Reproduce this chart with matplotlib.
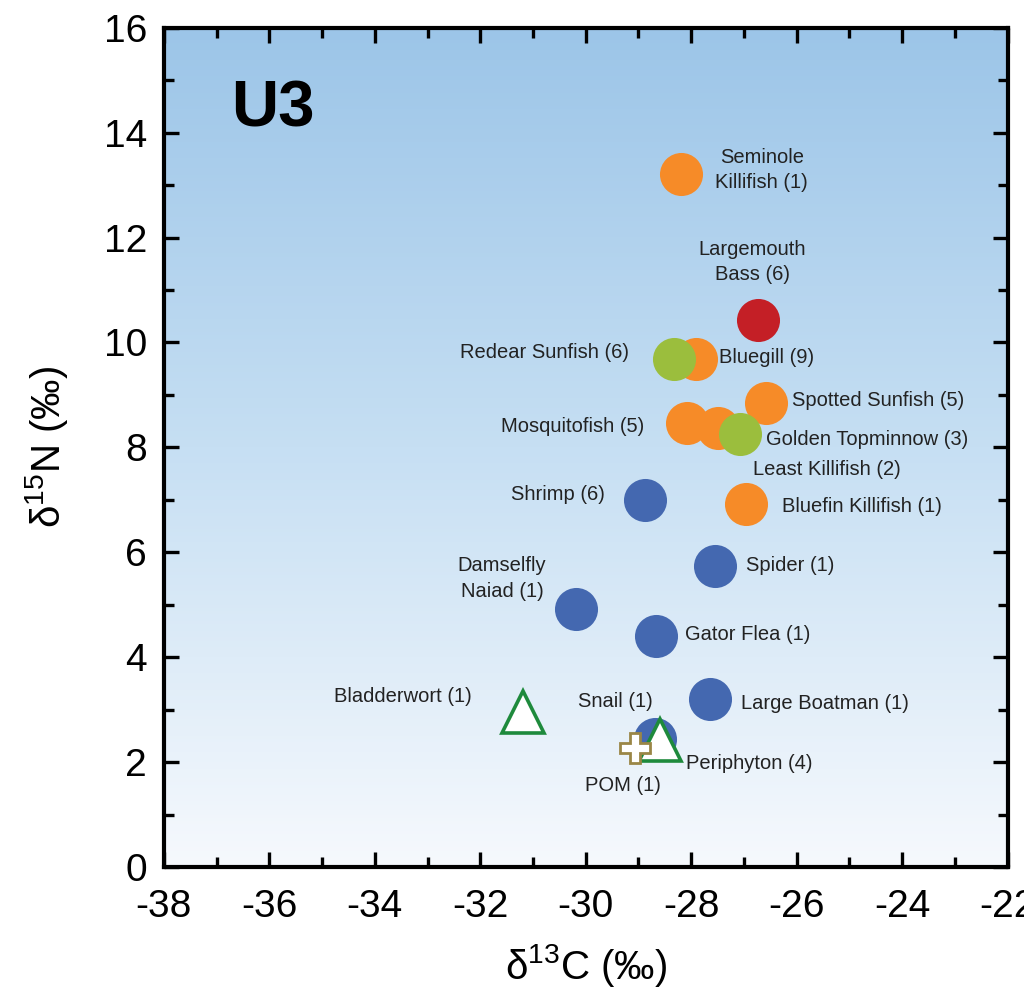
import matplotlib
matplotlib.use('Agg')
import matplotlib.pyplot as plt
import numpy as np
from matplotlib.colors import LinearSegmentedColormap
from matplotlib.ticker import MultipleLocator

plt.rcParams['font.family'] = ['Liberation Sans', 'DejaVu Sans']
plt.rcParams['mathtext.fontset'] = 'custom'
plt.rcParams['mathtext.rm'] = 'Liberation Sans'
plt.rcParams['mathtext.default'] = 'regular'
plt.rcParams['axes.unicode_minus'] = False

# taxa, sample counts and isotope values (d13C, d15N)
names = ['Seminole\nKillifish', 'Largemouth\nBass', 'Redear Sunfish', 'Bluegill',
         'Spotted Sunfish', 'Mosquitofish', 'Least Killifish', 'Golden Topminnow',
         'Shrimp', 'Bluefin Killifish', 'Spider', 'Damselfly\nNaiad', 'Gator Flea',
         'Large Boatman', 'Snail', 'Periphyton', 'Bladderwort', 'POM']
counts = [1, 6, 6, 9, 5, 5, 2, 3, 6, 1, 1, 1, 1, 1, 1, 4, 1, 1]
d13c = [-28.19, -26.73, -28.33, -27.90, -26.59, -28.08, -27.49, -27.08,
        -28.87, -26.97, -27.54, -30.19, -28.67, -27.64, -28.68, -28.60, -31.18, -29.06]
d15n = [13.21, 10.42, 9.68, 9.68, 8.84, 8.46, 8.37, 8.26,
        7.00, 6.92, 5.73, 4.92, 4.41, 3.20, 2.44, 2.42, 2.96, 2.26]
group = ['fish', 'top', 'plant_eater', 'fish', 'fish', 'fish', 'fish', 'plant_eater',
         'invert', 'fish', 'invert', 'invert', 'invert', 'invert', 'invert',
         'producer', 'producer', 'pom']

# drawing order (later on top)
order = ['invert', 'fish', 'top', 'plant_eater', 'producer', 'pom']
style = {
    'invert': dict(marker='o', color='#4468B0', ms=31, mec='none'),
    'fish': dict(marker='o', color='#F68B28', ms=31, mec='none'),
    'top': dict(marker='o', color='#C41F26', ms=31, mec='none'),
    'plant_eater': dict(marker='o', color='#9BBE3D', ms=31, mec='none'),
    'producer': dict(marker='^', color='white', ms=30, mec='#1E8A3C', mew=2.6),
    'pom': dict(marker='P', color='white', ms=22, mec='#9A8646', mew=2.0),
}

# label placement: offset in points from the marker, and alignment
label_pos = {
    'Seminole\nKillifish': ((58, 3), 'center'),
    'Largemouth\nBass': ((-4, 42), 'center'),
    'Redear Sunfish': ((-32, 5), 'right'),
    'Bluegill': ((16, 1), 'left'),
    'Spotted Sunfish': ((19, 2), 'left'),
    'Mosquitofish': ((-31, -2), 'right'),
    'Least Killifish': ((25, -30), 'left'),
    'Golden Topminnow': ((19, -4), 'left'),
    'Shrimp': ((-29, 4), 'right'),
    'Bluefin Killifish': ((26, -2), 'left'),
    'Spider': ((22, 1), 'left'),
    'Damselfly\nNaiad': ((-53, 22), 'center'),
    'Gator Flea': ((21, 1), 'left'),
    'Large Boatman': ((22, -3), 'left'),
    'Snail': ((-2, 27), 'right'),
    'Periphyton': ((19, -17), 'left'),
    'Bladderwort': ((-37, 11), 'right'),
    'POM': ((-9, -27), 'center'),
}

fig = plt.figure(figsize=(10.24, 9.92), dpi=100)
ax = fig.add_axes([0.160, 0.126, 0.824, 0.846])

# gradient background
cmap = LinearSegmentedColormap.from_list('bg', ['#F6F9FD', '#C6DFF3', '#9CC5E8'])
grad = np.linspace(0, 1, 256).reshape(-1, 1)
ax.imshow(grad, extent=[-38, -22, 0, 16], origin='lower', aspect='auto',
          cmap=cmap, zorder=0)

for g in order:
    for i in range(len(names)):
        if group[i] == g:
            ax.plot(d13c[i], d15n[i], linestyle='none', zorder=3, **style[g])

for i, n in enumerate(names):
    off, ha = label_pos[n]
    ax.annotate(f'{n} ({counts[i]})', (d13c[i], d15n[i]), xytext=off,
                textcoords='offset points', ha=ha, va='center', fontsize=14.5,
                color='#222222', multialignment='center', linespacing=1.45,
                zorder=4)

ax.text(-36.73, 14.44, 'U3', fontsize=47, fontweight='bold', va='center', ha='left')

ax.set_xlim(-38, -22)
ax.set_ylim(0, 16)
ax.xaxis.set_major_locator(MultipleLocator(2))
ax.xaxis.set_minor_locator(MultipleLocator(1))
ax.yaxis.set_major_locator(MultipleLocator(2))
ax.yaxis.set_minor_locator(MultipleLocator(1))
ax.tick_params(which='both', direction='in', top=True, right=True, width=2.4,
               labelsize=28, pad=12)
ax.tick_params(axis='x', pad=16)
ax.tick_params(which='major', length=11)
ax.tick_params(which='minor', length=7)
for s in ax.spines.values():
    s.set_linewidth(3)

ax.set_xlabel('δ$^{13}$C (‰)', fontsize=29, labelpad=12)
ax.set_ylabel('δ$^{15}$N (‰)', fontsize=29, labelpad=24)

fig.savefig('out.png', dpi=100)
